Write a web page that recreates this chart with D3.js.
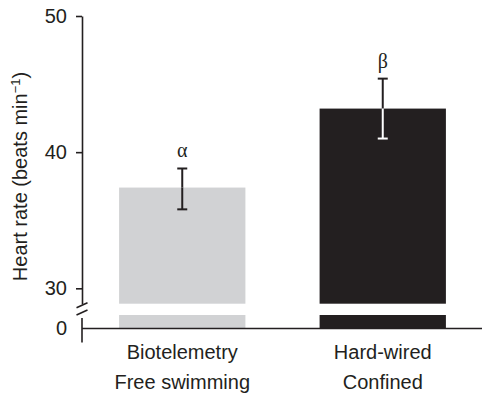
<!DOCTYPE html>
<html>
<head>
<meta charset="utf-8">
<script src="https://cdn.jsdelivr.net/npm/d3@7"></script>
<style>
  html, body { margin: 0; padding: 0; background: #fff; }
  svg { display: block; }
  text { font-family: "Liberation Sans", Arial, Helvetica, sans-serif; fill: #231f20; }
</style>
</head>
<body>
<svg id="chart" width="482" height="394"></svg>
<script>
// ---- data ----
const categoriesLine1 = ["Biotelemetry", "Hard-wired"];
const categoriesLine2 = ["Free swimming", "Confined"];
const meanValues = [37.4, 43.2];
const errUpper = [38.8, 45.4];
const errLower = [35.8, 41.0];
const sigLabels = ["\u03b1", "\u03b2"];
const barColors = ["#d1d2d4", "#231f20"];
const errInsideColors = ["#231f20", "#ffffff"];
const upperTicks = [30, 40, 50];
const lowerTicks = [0];
const upperDomain = [28.87, 50];
const lowerDomain = [0, 1];

// ---- layout ----
const ink = "#231f20";
const axisX = 82;
const svg = d3.select("#chart");

const x = d3.scaleBand()
  .domain(categoriesLine1)
  .range([axisX, 483])
  .paddingInner(0.37)
  .paddingOuter(0.185);

const yUp = d3.scaleLinear().domain(upperDomain).range([303.7, 16]);
const yLow = d3.scaleLinear().domain(lowerDomain).range([328.5, 315]);

const data = categoriesLine1.map((c, i) => ({
  cat: c, line2: categoriesLine2[i], mean: meanValues[i],
  hi: errUpper[i], lo: errLower[i], sig: sigLabels[i],
  color: barColors[i], inside: errInsideColors[i]
}));

// bars - upper segment
svg.append("g").selectAll("rect").data(data).join("rect")
  .attr("x", d => x(d.cat))
  .attr("width", x.bandwidth())
  .attr("y", d => yUp(d.mean))
  .attr("height", d => yUp(upperDomain[0]) - yUp(d.mean))
  .attr("fill", d => d.color);

// bars - lower stub
svg.append("g").selectAll("rect").data(data).join("rect")
  .attr("x", d => x(d.cat))
  .attr("width", x.bandwidth())
  .attr("y", yLow(lowerDomain[1]))
  .attr("height", yLow(0) - yLow(lowerDomain[1]))
  .attr("fill", d => d.color);

// error bars
const capW = 10;
const eb = svg.append("g").selectAll("g").data(data).join("g")
  .attr("transform", d => `translate(${x(d.cat) + x.bandwidth() / 2},0)`);
eb.append("line")
  .attr("y1", d => yUp(d.hi)).attr("y2", d => yUp(d.mean))
  .attr("stroke", ink).attr("stroke-width", 2);
eb.append("line")
  .attr("x1", -capW / 2).attr("x2", capW / 2)
  .attr("y1", d => yUp(d.hi)).attr("y2", d => yUp(d.hi))
  .attr("stroke", ink).attr("stroke-width", 2);
eb.append("line")
  .attr("y1", d => yUp(d.mean)).attr("y2", d => yUp(d.lo))
  .attr("stroke", d => d.inside).attr("stroke-width", 2);
eb.append("line")
  .attr("x1", -capW / 2).attr("x2", capW / 2)
  .attr("y1", d => yUp(d.lo)).attr("y2", d => yUp(d.lo))
  .attr("stroke", d => d.inside).attr("stroke-width", 2);
eb.append("text")
  .attr("y", d => yUp(d.hi) - 11)
  .attr("text-anchor", "middle")
  .style("font-family", "'Liberation Serif', 'Times New Roman', serif")
  .style("font-size", "20px")
  .text(d => d.sig);

// upper y axis
const gUp = svg.append("g")
  .attr("transform", `translate(${axisX},0)`)
  .call(d3.axisLeft(yUp).tickValues(upperTicks).tickSizeInner(6).tickSizeOuter(0).tickPadding(9).tickFormat(d3.format("d")));
// lower y axis
const gLow = svg.append("g")
  .attr("transform", `translate(${axisX},0)`)
  .call(d3.axisLeft(yLow).tickValues(lowerTicks).tickSizeInner(0).tickSizeOuter(0).tickPadding(15).tickFormat(d3.format("d")));
gLow.select(".domain").remove();
[gUp, gLow].forEach(g => {
  g.select(".domain").attr("stroke", ink).attr("stroke-width", 1.6);
  g.selectAll(".tick line").attr("stroke", ink).attr("stroke-width", 1.6);
  g.selectAll(".tick text")
    .attr("fill", ink)
    .style("font-family", "'Liberation Sans', Arial, sans-serif")
    .style("font-size", "20px");
});
svg.append("line")
  .attr("x1", axisX).attr("x2", axisX)
  .attr("y1", yLow(lowerDomain[1]) + 3).attr("y2", yLow(0) + 14)
  .attr("stroke", ink).attr("stroke-width", 1.6);

// break marks
const breakMid = [yUp(upperDomain[0]) + 1.5, yLow(lowerDomain[1]) - 2.5];
svg.append("g").selectAll("line").data(breakMid).join("line")
  .attr("x1", axisX - 5.5).attr("x2", axisX + 5.5)
  .attr("y1", d => d + 2.5).attr("y2", d => d - 2.5)
  .attr("stroke", ink).attr("stroke-width", 1.6);

// x axis baseline
svg.append("line")
  .attr("x1", axisX).attr("x2", 482)
  .attr("y1", yLow(0)).attr("y2", yLow(0))
  .attr("stroke", ink).attr("stroke-width", 1.6);

// category labels
const lab = svg.append("g").selectAll("text").data(data).join("text")
  .attr("text-anchor", "middle")
  .style("font-size", "20px");
lab.append("tspan")
  .attr("x", d => x(d.cat) + x.bandwidth() / 2)
  .attr("y", 358.5)
  .text(d => d.cat);
lab.append("tspan")
  .attr("x", d => x(d.cat) + x.bandwidth() / 2)
  .attr("y", 388.5)
  .text(d => d.line2);

// y axis title
const yt = svg.append("text")
  .attr("transform", `translate(27,${176.5}) rotate(-90)`)
  .attr("text-anchor", "middle")
  .style("font-size", "20px");
yt.append("tspan").text("Heart rate (beats min");
yt.append("tspan").attr("dy", -7).style("font-size", "13px").text("\u22121");
yt.append("tspan").attr("dy", 7).text(")");
</script>
</body>
</html>
